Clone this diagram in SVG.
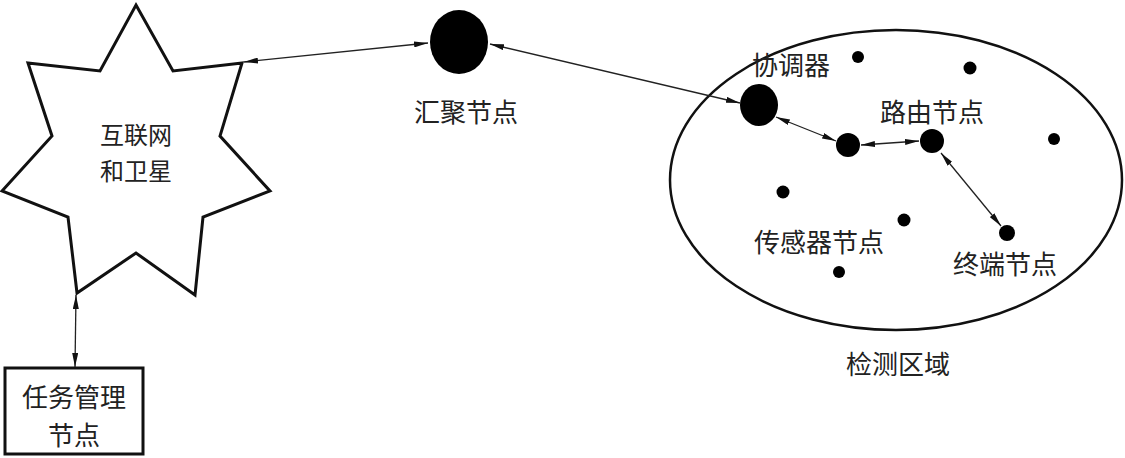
<svg xmlns="http://www.w3.org/2000/svg" width="1125" height="458" viewBox="0 0 1125 458">
<defs>
<style>
.t{font-family:"Noto Sans CJK SC","Noto Sans",sans-serif;font-size:26px;fill:#222;text-anchor:middle;dominant-baseline:central}
.s{font-size:24px}
.ln{stroke:#222;stroke-width:1.3;fill:none;marker-start:url(#a);marker-end:url(#a)}
.ol{stroke:#111;stroke-width:3;fill:#fff}
.dot{fill:#000}
</style>
<marker id="a" viewBox="0 0 14 6" refX="14" refY="3" markerWidth="14" markerHeight="6" markerUnits="userSpaceOnUse" orient="auto-start-reverse">
<path d="M0,0 L14,3 L0,6 Z" fill="#111"/>
</marker>
</defs>
<g id="region">
<ellipse cx="896" cy="180" rx="226" ry="150" fill="none" stroke="#111" stroke-width="2.5"/>
<text class="t" x="898" y="362">检测区域</text>
</g>
<g id="connectors">
<line class="ln" x1="244" y1="62" x2="428" y2="43"/>
<line class="ln" x1="490" y1="44" x2="740" y2="103"/>
<line class="ln" x1="776" y1="117" x2="836" y2="141"/>
<line class="ln" x1="861" y1="145" x2="919" y2="141"/>
<line class="ln" x1="941" y1="153" x2="1001" y2="226"/>
<line class="ln" x1="76" y1="295" x2="75" y2="367"/>
</g>
<g id="internet">
<polygon class="ol" points="136,5 173,71 242,63 220,136 270,191 203,217 195,295 136,253 77,293 68,217 2,191 52,136 28,63 100,71"/>
<text class="t s" x="136" y="133">互联网</text>
<text class="t s" x="136" y="169">和卫星</text>
</g>
<g id="task">
<rect x="5" y="368" width="138" height="86" fill="#fff" stroke="#111" stroke-width="3"/>
<text class="t" x="74" y="395">任务管理</text>
<text class="t" x="74" y="433">节点</text>
</g>
<g id="sink">
<ellipse class="dot" cx="459" cy="42" rx="29" ry="32"/>
<text class="t" x="466" y="110">汇聚节点</text>
</g>
<g id="coordinator">
<ellipse class="dot" cx="759" cy="105" rx="19" ry="21"/>
<text class="t" x="791" y="63">协调器</text>
</g>
<g id="middle"><circle class="dot" cx="848" cy="145" r="12"/></g>
<g id="router">
<circle class="dot" cx="932" cy="141" r="12"/>
<text class="t" x="932" y="110">路由节点</text>
</g>
<g id="terminal">
<circle class="dot" cx="1007" cy="233" r="8"/>
<text class="t" x="1005" y="262">终端节点</text>
</g>
<g id="sensors">
<circle class="dot" cx="858" cy="57" r="6"/>
<circle class="dot" cx="970" cy="68" r="6.5"/>
<circle class="dot" cx="1054" cy="139" r="6"/>
<circle class="dot" cx="783" cy="192" r="6.5"/>
<circle class="dot" cx="904" cy="220" r="6.5"/>
<circle class="dot" cx="839" cy="272" r="6"/>
<text class="t" x="819" y="240">传感器节点</text>
</g>
</svg>
